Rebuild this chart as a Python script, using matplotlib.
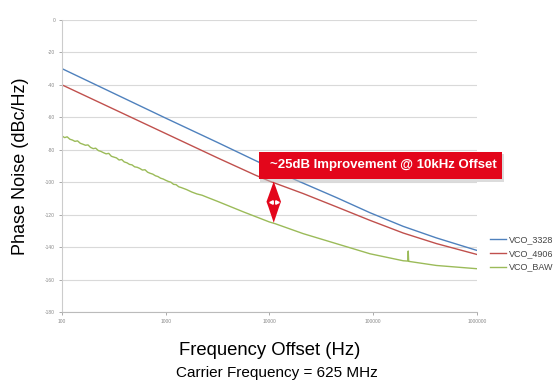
import numpy as np
import matplotlib
matplotlib.use('Agg')
import matplotlib.pyplot as plt
from matplotlib.patches import Rectangle, Polygon

plt.rcParams['font.family'] = ['Liberation Sans', 'DejaVu Sans']

# lecturas del grafico (Hz, dBc/Hz)
f_3328 = [100, 1000, 3162, 7244, 10000, 17783, 44463, 93325, 195000, 407000, 1000000]
pn_3328 = [-30, -60.5, -75.5, -86.5, -90.7, -98.5, -109.5, -118.8, -127.2, -134.3, -142]

f_4906 = [100, 1000, 3162, 7244, 10000, 21190, 44463, 93325, 195000, 407000, 1000000]
pn_4906 = [-40, -70, -85, -95.5, -99.3, -107, -115.2, -123.5, -131.3, -137.8, -144.5]

f_baw = [100, 106, 112, 119, 126, 133, 141, 150, 158, 168, 178, 188, 200, 211, 224,
         237, 251, 266, 282, 299, 316, 335, 355, 376, 398, 422, 447, 473, 501, 531,
         562, 596, 631, 668, 708, 750, 794, 841, 891, 944, 1000, 1059, 1122, 1189,
         1259, 1334, 1413, 1585, 1778, 1995, 2239, 2512, 3162, 5623, 10000, 11300,
         21190, 44463, 93325, 195000, 216000, 218000, 220000, 222000, 407000, 1000000]
pn_baw = [-71.5, -72.5, -72.0, -73.5, -74.0, -74.8, -74.5, -76.0, -76.5, -77.2, -77.0,
          -78.5, -79.3, -79.0, -80.5, -81.0, -81.8, -82.5, -82.2, -84.0, -84.5, -85.0,
          -86.3, -86.0, -87.5, -88.0, -89.0, -89.3, -90.5, -90.8, -91.5, -92.5, -92.3,
          -93.8, -94.5, -95.0, -96.0, -96.5, -97.5, -98.0, -98.8, -99.5, -100.0, -101.3,
          -101.5, -102.8, -103.3, -104.5, -106.0, -107.2, -108.0, -109.3, -111.8, -118.3,
          -124.5, -125.5, -131.7, -137.9, -144.1, -148.4, -148.6, -142.4, -148.7, -148.8,
          -151.3, -153.3]

series = [('VCO_3328', f_3328, pn_3328, '#4F81BD'),
          ('VCO_4906', f_4906, pn_4906, '#C0504D'),
          ('VCO_BAW', f_baw, pn_baw, '#9BBB59')]

yticks = list(range(0, -181, -20))
xticks = [100, 1000, 10000, 100000, 1000000]

fig = plt.figure(figsize=(5.59, 3.92), dpi=100)
ax = fig.add_axes([0.111, 0.204, 0.742, 0.745])

for name, fx, py, col in series:
    ax.plot(fx, py, color=col, lw=1.0, label=name)

ax.set_xscale('log')
ax.set_xlim(100, 1000000)
ax.set_ylim(-180, 0)
ax.set_yticks(yticks)
ax.set_yticklabels([str(v) for v in yticks])
ax.set_xticks(xticks)
ax.set_xticklabels([str(v) for v in xticks])
ax.minorticks_off()
ax.tick_params(labelsize=3.5, colors='#888888', length=2, width=0.5, pad=3)
ax.grid(axis='y', color='#d9d9d9', lw=0.8)
ax.set_axisbelow(True)
for s in ['top', 'right']:
    ax.spines[s].set_visible(False)
ax.spines['left'].set_color('#cccccc')
ax.spines['bottom'].set_color('#bbbbbb')

ax.set_ylabel('Phase Noise (dBc/Hz)', fontsize=13, labelpad=12)
ax.set_xlabel('Frequency Offset (Hz)', fontsize=13.3, labelpad=13)
fig.text(0.495, 0.048, 'Carrier Frequency = 625 MHz', ha='center', va='center', fontsize=11)

# flecha doble roja a 10 kHz
cx = np.log10(11000)
pts = [(0, -99.5), (0.05, -108.5), (0.07, -112), (0.05, -115.5), (0, -125),
       (-0.05, -115.5), (-0.07, -112), (-0.05, -108.5)]
ax.add_patch(Polygon([(10 ** (cx + dx), y) for dx, y in pts], closed=True,
                     facecolor='#E3061B', edgecolor='none', zorder=5))
ax.plot([10 ** (cx - 0.028)], [-112], marker='<', color='white', ms=2.5, zorder=6)
ax.plot([10 ** (cx + 0.028)], [-112], marker='>', color='white', ms=2.5, zorder=6)

# caja del texto
fig.add_artist(Rectangle((0.466, 0.536), 0.435, 0.07, transform=fig.transFigure,
                         facecolor='#bbbbbb', edgecolor='none', alpha=0.5))
fig.add_artist(Rectangle((0.463, 0.543), 0.435, 0.070, transform=fig.transFigure,
                         facecolor='#E3061B', edgecolor='none'))
fig.text(0.686, 0.578, '~25dB Improvement @ 10kHz Offset', ha='center', va='center',
         fontsize=9.5, color='white', fontweight='bold')

fig.legend(loc='center left', bbox_to_anchor=(0.862, 0.354), frameon=False,
           fontsize=6.5, handlelength=1.8, handletextpad=0.3, labelspacing=0.55,
           labelcolor='#444444')

fig.savefig('out.png', dpi=100)
